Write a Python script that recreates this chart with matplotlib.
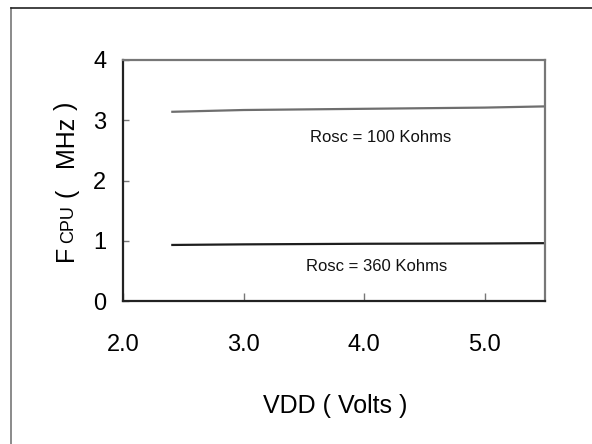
import matplotlib
matplotlib.use("Agg")
import matplotlib.pyplot as plt
from matplotlib.lines import Line2D

plt.rcParams['font.family'] = ['Liberation Sans', 'DejaVu Sans']

vdd = [2.4, 3.0, 3.5, 4.0, 4.5, 5.0, 5.5]
f_100k = [3.14, 3.17, 3.18, 3.19, 3.20, 3.21, 3.23]
f_360k = [0.93, 0.94, 0.945, 0.95, 0.952, 0.955, 0.96]
xticks = [2.0, 3.0, 4.0, 5.0]
xticklabels = ["2.0", "3.0", "4.0", "5.0"]
yticks = [0, 1, 2, 3, 4]
yticklabels = ["0", "1", "2", "3", "4"]
labels = ["Rosc = 100 Kohms", "Rosc = 360 Kohms"]

fig = plt.figure(figsize=(5.92, 4.44), dpi=100)
ax = fig.add_axes([123/592, 1-301/444, (545-123)/592, (301-60)/444])

ax.plot(vdd, f_100k, color='#6e6e6e', lw=1.6, solid_capstyle='butt')
ax.plot(vdd, f_360k, color='#1e1e1e', lw=1.6, solid_capstyle='butt')

ax.set_xlim(2.0, 5.5)
ax.set_ylim(0, 4)
ax.set_xticks(xticks)
ax.set_xticklabels(xticklabels)
ax.set_yticks(yticks)
ax.set_yticklabels(yticklabels)

for s in ['left', 'bottom']:
    ax.spines[s].set_color('#222222')
    ax.spines[s].set_linewidth(1.6)
for s in ['top', 'right']:
    ax.spines[s].set_color('#777777')
    ax.spines[s].set_linewidth(1.6)

ax.tick_params(axis='x', direction='in', length=6, width=1.0, color='#777777',
               pad=24, labelsize=17)
ax.tick_params(axis='y', direction='in', length=4, width=1.0, color='#777777',
               pad=12, labelsize=17)

ax.text(3.55, 2.72, labels[0], fontsize=12, color='#111111', va='center', ha='left')
ax.text(3.52, 0.57, labels[1], fontsize=12, color='#111111', va='center', ha='left')

fig.text(335/592, 1-406/444, "VDD ( Volts )", fontsize=18, ha='center', va='center')

# y label built from rotated pieces: big F, small CPU, ( MHz )
xb = 73/592
def ypiece(s, y_start, size):
    fig.text(xb, 1-y_start/444, s, fontsize=size, rotation=90, ha='left',
             va='baseline', rotation_mode='anchor')

ypiece("F", 261, 18)
ypiece("CPU", 243, 13)
ypiece("(", 197, 18)
ypiece("MHz", 167, 18)
ypiece(")", 110, 18)

# outer frame of the original figure (partly cut off)
fig.add_artist(Line2D([11/592, 11/592], [0, 1-8/444], transform=fig.transFigure,
                      color='#777777', lw=1.2))
fig.add_artist(Line2D([11/592, 1], [1-8/444, 1-8/444], transform=fig.transFigure,
                      color='#222222', lw=1.2))

fig.savefig("out.png", dpi=100)
